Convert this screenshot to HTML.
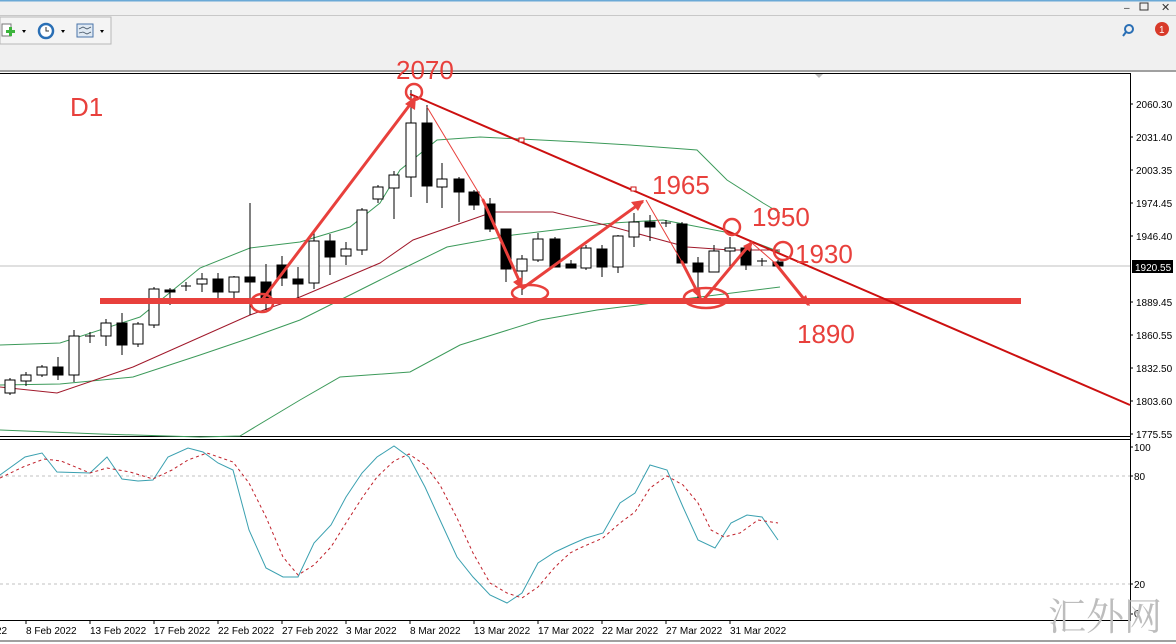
<!DOCTYPE html>
<html><head><meta charset="utf-8"><style>
html,body{margin:0;padding:0;background:#fff;width:1176px;height:644px;overflow:hidden}
svg{display:block;font-family:"Liberation Sans",sans-serif}
</style></head><body>
<svg width="1176" height="644" viewBox="0 0 1176 644" xmlns="http://www.w3.org/2000/svg">
<rect x="0" y="0" width="1176" height="72" fill="#f0f0f0"/>
<rect x="0" y="0" width="1176" height="1.5" fill="#6aa9d6"/>
<rect x="0" y="15" width="1176" height="1" fill="#c8c8c8"/>
<rect x="0" y="17" width="111" height="27" fill="#f4f4f4" stroke="#b8b8b8"/>
<rect x="2" y="24" width="9" height="12" fill="#fff" stroke="#777"/>
<path d="M9 27h3v3h3v3h-3v3h-3v-3h-3v-3h3z" fill="#3cb43c"/>
<path d="M22 30l4 0-2 3z" fill="#000"/>
<circle cx="46" cy="31" r="7" fill="#fff" stroke="#2a6fb5" stroke-width="2.5"/>
<path d="M46 27v4h3" stroke="#333" fill="none"/>
<path d="M61 30l4 0-2 3z" fill="#000"/>
<rect x="77" y="24" width="16" height="13" fill="#dfe9f3" stroke="#4a74a8"/>
<path d="M79 29l4-2 4 2 4-2M79 33l4-1 4 2 4-2" stroke="#456" fill="none" stroke-width=".8"/>
<path d="M100 30l4 0-2 3z" fill="#000"/>
<text x="1124" y="11" font-size="10" fill="#333">–</text>
<rect x="1140" y="3" width="8" height="7" fill="none" stroke="#333"/>
<text x="1161" y="11" font-size="11" fill="#333">✕</text>
<circle cx="1129" cy="29" r="4" fill="none" stroke="#2a6fb5" stroke-width="2"/>
<path d="M1126 32l-3 4" stroke="#2a6fb5" stroke-width="2"/>
<circle cx="1162" cy="29" r="7" fill="#d83a2a"/>
<text x="1159" y="33" font-size="10" fill="#fff">1</text>
<rect x="0" y="70" width="1176" height="2" fill="#a0a0a0"/>
<path d="M815 74h8l-4 4z" fill="#bbb"/>
<!-- frames -->
<rect x="0" y="73" width="1130" height="1" fill="#000"/>
<rect x="1130" y="73" width="1" height="548" fill="#000"/>
<rect x="0" y="436" width="1130" height="1" fill="#000"/>
<rect x="0" y="439" width="1130" height="1" fill="#000"/>
<rect x="0" y="620" width="1130" height="1" fill="#000"/>
<rect x="0" y="640" width="1176" height="2" fill="#a0a0a0"/>
<!-- price axis -->
<g font-size="10" fill="#000">
<g stroke="#000"><path d="M1130 104h3M1130 137h3M1130 170h3M1130 203h3M1130 236h3M1130 302h3M1130 335h3M1130 368h3M1130 401h3M1130 434h3M1130 447h3M1130 476h3M1130 584h3M1130 614h3"/></g>
<text x="1136" y="108">2060.30</text><text x="1136" y="141">2031.40</text><text x="1136" y="174">2003.35</text><text x="1136" y="207">1974.45</text><text x="1136" y="240">1946.40</text><text x="1136" y="306">1889.45</text><text x="1136" y="339">1860.55</text><text x="1136" y="372">1832.50</text><text x="1136" y="405">1803.60</text><text x="1136" y="438">1775.55</text>
<text x="1134" y="451">100</text><text x="1134" y="480">80</text><text x="1134" y="588">20</text><text x="1134" y="617">0</text>
</g>
<rect x="1132" y="260" width="41" height="13" fill="#000"/>
<text x="1135" y="271" font-size="10" fill="#fff">1920.55</text>
<line x1="0" y1="266" x2="1130" y2="266" stroke="#c0c0c0"/>
<!-- date axis -->
<g font-size="10" fill="#000" stroke-width="1">
<g stroke="#000"><path d="M26 620v4M90 620v4M154 620v4M218 620v4M282 620v4M346 620v4M410 620v4M474 620v4M538 620v4M602 620v4M666 620v4M730 620v4"/></g>
<text x="-4" y="634">22</text>
<text x="26" y="634">8 Feb 2022</text><text x="90" y="634">13 Feb 2022</text><text x="154" y="634">17 Feb 2022</text><text x="218" y="634">22 Feb 2022</text><text x="282" y="634">27 Feb 2022</text><text x="346" y="634">3 Mar 2022</text><text x="410" y="634">8 Mar 2022</text><text x="474" y="634">13 Mar 2022</text><text x="538" y="634">17 Mar 2022</text><text x="602" y="634">22 Mar 2022</text><text x="666" y="634">27 Mar 2022</text><text x="730" y="634">31 Mar 2022</text>
</g>
<!-- bands -->
<g fill="none" stroke-width="1">
<polyline stroke="#3c9a5a" points="0,345 60,343 140,317 200,268 250,248 300,242 350,227 380,203 400,170 437,140 480,137 580,142 630,145 697,150 727,180 763,203 780,213"/>
<polyline stroke="#3c9a5a" points="0,385 60,384 133,377 200,355 250,338 300,320 350,295 380,280 400,270 447,247 513,235 613,223 663,220 730,233 780,252"/>
<polyline stroke="#3c9a5a" points="0,430 100,434 200,437 240,436 300,400 340,377 410,372 460,345 540,320 597,310 700,297 780,287"/>
<polyline stroke="#a0182a" points="0,387 57,393 133,367 250,315 300,297 380,263 413,240 493,212 553,212 613,227 687,247 730,250 780,250"/>
</g>
<!-- candles -->
<g stroke="#000" stroke-width="1">
<path d="M10 378V395M26 372V386M42 365V377M58 357V380M74 330V382M90 332V343M106 319V346M122 313V355M138 322V347M154 287V328M170 288V305M186 282V291M202 273V292M218 273V298M234 276V298M250 203V315M266 264V310M282 256V286M298 267V300M314 231V289M330 234V275M346 242V265M362 208V255M378 185V203M394 171V219M411 90V197M427 105V203M442 163V208M459 177V222M474 190V210M490 198V232M506 229V282M522 255V295M538 233V262M555 237V267M571 260V268M586 245V270M602 245V277M618 235V273M634 213V247M650 215V241M666 220V227M682 222V264M698 257V302M714 245V272M730 237V267M746 245V270M762 258V266M778 260V267"/>
<g fill="#fff">
<rect x="5" y="380" width="10" height="13"/><rect x="21" y="375" width="10" height="6"/><rect x="37" y="367" width="10" height="8"/><rect x="69" y="336" width="10" height="39"/><rect x="101" y="323" width="10" height="13"/><rect x="133" y="324" width="10" height="20"/><rect x="149" y="289" width="10" height="36"/><rect x="197" y="279" width="10" height="5"/><rect x="229" y="277" width="10" height="15"/><rect x="309" y="241" width="10" height="42"/><rect x="341" y="249" width="10" height="7"/><rect x="357" y="210" width="10" height="40"/><rect x="373" y="187" width="10" height="12"/><rect x="389" y="175" width="10" height="13"/><rect x="406" y="123" width="10" height="54"/><rect x="437" y="179" width="10" height="8"/><rect x="517" y="259" width="10" height="12"/><rect x="533" y="239" width="10" height="21"/><rect x="581" y="248" width="10" height="20"/><rect x="613" y="236" width="10" height="31"/><rect x="629" y="222" width="10" height="15"/><rect x="709" y="251" width="10" height="21"/><rect x="725" y="248" width="10" height="3"/>
</g>
<g fill="#000">
<rect x="53" y="367" width="10" height="8"/><rect x="117" y="323" width="10" height="22"/><rect x="165" y="290" width="10" height="2"/><rect x="213" y="279" width="10" height="13"/><rect x="245" y="277" width="10" height="5"/><rect x="261" y="282" width="10" height="16"/><rect x="277" y="265" width="10" height="13"/><rect x="293" y="279" width="10" height="5"/><rect x="325" y="241" width="10" height="16"/><rect x="422" y="123" width="10" height="63"/><rect x="454" y="179" width="10" height="13"/><rect x="469" y="192" width="10" height="13"/><rect x="485" y="204" width="10" height="25"/><rect x="501" y="229" width="10" height="40"/><rect x="550" y="239" width="10" height="28"/><rect x="566" y="264" width="10" height="4"/><rect x="597" y="249" width="10" height="18"/><rect x="645" y="222" width="10" height="5"/><rect x="677" y="224" width="10" height="39"/><rect x="693" y="263" width="10" height="9"/><rect x="741" y="248" width="10" height="17"/><rect x="773" y="262" width="10" height="4"/>
</g>
<path d="M85 336h10M181 286h10M661 223h10M757 261h10" />
</g>
<!-- stochastic -->
<g fill="none">
<path d="M0 476H1130M0 584H1130" stroke="#c0c0c0" stroke-dasharray="3,3"/>
<polyline stroke="#3aa0b0" points="0,475 25,457 42,453 57,472 90,473 107,457 122,479 138,481 153,480 168,457 188,448 203,452 218,463 233,470 249,530 266,568 283,577 298,577 314,543 331,525 346,497 362,473 377,457 394,446 409,457 425,487 440,520 457,557 473,577 490,595 507,603 522,593 538,563 555,552 570,545 586,538 603,533 620,503 635,493 650,465 667,470 683,507 698,540 715,548 731,523 747,515 762,517 778,540"/>
<polyline stroke="#c0202a" stroke-dasharray="3,3" points="0,478 23,467 44,459 61,461 90,473 107,468 130,472 153,479 172,470 188,460 207,453 233,462 249,483 266,517 283,557 298,575 314,565 331,547 346,523 362,498 377,477 394,461 409,454 425,465 440,485 457,518 473,553 490,583 507,593 522,598 538,587 555,567 570,553 580,548 603,538 620,523 635,512 650,488 667,476 683,485 698,503 711,530 724,537 740,533 758,520 778,523"/>
</g>
<!-- annotations -->
<g fill="none">
<line x1="100" y1="301" x2="1021" y2="301" stroke="#e8403c" stroke-width="6"/>
<line x1="410" y1="94" x2="1130" y2="405" stroke="#cc1010" stroke-width="2"/>
<rect x="519" y="138" width="5" height="4" stroke="#cc1010" fill="#fff"/>
<rect x="631" y="187" width="5" height="4" stroke="#cc1010" fill="#fff"/>
<g stroke="#e8403c" stroke-width="3" stroke-linecap="round">
<line x1="262" y1="300" x2="415" y2="98"/>
<line x1="483" y1="200" x2="522" y2="287"/>
<line x1="523" y1="288" x2="642" y2="202"/>
<line x1="682" y1="262" x2="700" y2="297"/>
<line x1="705" y1="298" x2="751" y2="243"/>
<line x1="775" y1="263" x2="808" y2="304"/>
</g>
<g stroke="#e8403c" stroke-width="1">
<line x1="427" y1="107" x2="483" y2="200"/>
<line x1="646" y1="200" x2="682" y2="262"/>
<line x1="752" y1="243" x2="775" y2="263"/>
</g>
<g fill="#e8403c">
<path d="M416 96l-1 14-10-6z"/>
<path d="M523 290l-10-8 9-5z"/>
<path d="M644 200l-6 11-7-9z"/>
<path d="M701 299l-9-8 8-4z"/>
<path d="M753 241l-3 11-7-6z"/>
<path d="M810 306l-11-5 7-6z"/>
</g>
<g stroke="#e8403c" stroke-width="2.5">
<circle cx="414" cy="92" r="8"/>
<ellipse cx="262" cy="303" rx="11" ry="9"/>
<ellipse cx="530" cy="293" rx="18" ry="8"/>
<ellipse cx="706" cy="298" rx="22" ry="10"/>
<circle cx="732" cy="227" r="8"/>
<circle cx="783" cy="251" r="9"/>
</g>
</g>
<g fill="#e8403c" font-size="26">
<text x="70" y="116">D1</text>
<text x="396" y="79">2070</text>
<text x="652" y="194">1965</text>
<text x="752" y="226">1950</text>
<text x="795" y="263">1930</text>
<text x="797" y="343">1890</text>
</g>
<text x="1048" y="630" font-size="38" fill="#bdbdbd" font-family="'Noto Serif CJK SC','Noto Sans CJK SC',serif">汇外网</text>
</svg>
</body></html>
